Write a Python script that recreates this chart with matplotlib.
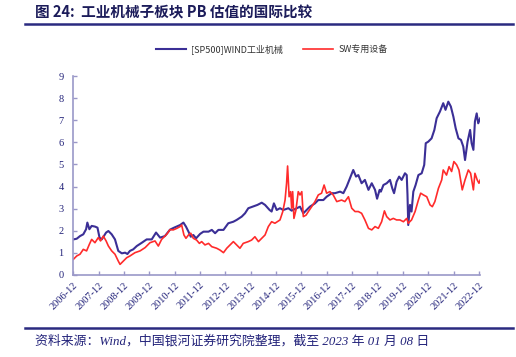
import matplotlib
matplotlib.use("Agg")
import matplotlib.pyplot as plt

plt.rcParams['font.family'] = ['Noto Sans CJK SC', 'DejaVu Sans']

title = "图 24:  工业机械子板块 PB 估值的国际比较"
source = "资料来源：Wind，中国银河证券研究院整理，截至 2023 年 01 月 08 日"
name_a = "[SP500]WIND工业机械"
name_b = "SW专用设备"

# time in decimal years (2006-12 tick = 2006.917)
t_a = [2006.92, 2007.05, 2007.18, 2007.31, 2007.42, 2007.47, 2007.55, 2007.64, 2007.77, 2007.87,
       2007.95, 2008.04, 2008.21, 2008.30, 2008.43, 2008.56, 2008.69, 2008.83, 2008.96, 2009.05,
       2009.15, 2009.28, 2009.42, 2009.62, 2009.81, 2010.01, 2010.18, 2010.34, 2010.53, 2010.73,
       2010.89, 2011.13, 2011.26, 2011.36, 2011.46, 2011.55, 2011.65, 2011.76, 2011.92, 2012.05,
       2012.25, 2012.38, 2012.51, 2012.64, 2012.84, 2013.03, 2013.23, 2013.36, 2013.56, 2013.69,
       2013.82, 2013.99, 2014.18, 2014.35, 2014.48, 2014.66, 2014.74, 2014.83, 2014.94, 2015.07,
       2015.20, 2015.40, 2015.53, 2015.73, 2015.86, 2015.99, 2016.12, 2016.25, 2016.45, 2016.58,
       2016.78, 2016.91, 2017.11, 2017.24, 2017.44, 2017.57, 2017.70, 2017.83, 2017.96, 2018.07,
       2018.16, 2018.29, 2018.42, 2018.56, 2018.69, 2018.82, 2018.90, 2019.00, 2019.05, 2019.15,
       2019.28, 2019.41, 2019.50, 2019.57, 2019.67, 2019.77, 2019.87, 2020.00, 2020.07, 2020.10,
       2020.13, 2020.20, 2020.26, 2020.33, 2020.42, 2020.53, 2020.66, 2020.76, 2020.82, 2020.92,
       2021.05, 2021.16, 2021.25, 2021.38, 2021.51, 2021.60, 2021.71, 2021.81, 2021.91, 2022.00,
       2022.11, 2022.21, 2022.30, 2022.37, 2022.47, 2022.57, 2022.63, 2022.70, 2022.76, 2022.83,
       2022.89, 2022.97]
v_a = [1.61, 1.64, 1.76, 1.84, 2.07, 2.37, 2.07, 2.22, 2.19, 2.14,
       1.69, 1.61, 1.92, 1.99, 1.84, 1.61, 1.09, 0.98, 1.01, 0.95,
       1.09, 1.16, 1.31, 1.46, 1.61, 1.61, 1.92, 1.69, 1.76, 2.05,
       2.14, 2.26, 2.37, 2.19, 1.96, 1.73, 1.81, 1.66, 1.86, 1.96,
       1.96, 2.04, 1.89, 2.04, 2.04, 2.34, 2.41, 2.49, 2.64, 2.79,
       3.02, 3.09, 3.17, 3.27, 3.17, 2.94, 2.87, 3.24, 2.94, 3.02,
       2.94, 3.02, 2.91, 3.02, 3.09, 2.79, 2.94, 3.09, 3.24, 3.39,
       3.39, 3.54, 3.70, 3.70, 3.77, 3.70, 4.00, 4.37, 4.75, 4.45,
       4.52, 4.15, 4.30, 3.85, 4.15, 3.85, 3.45, 3.85, 3.77, 4.07,
       4.15, 4.30, 3.92, 3.70, 4.22, 4.45, 4.30, 4.60, 4.52, 3.62,
       2.26, 3.17, 2.87, 3.77, 4.07, 4.52, 4.60, 4.98, 5.96, 6.03,
       6.18, 6.56, 7.09, 7.39, 7.77, 7.47, 7.84, 7.62, 7.16, 6.64,
       6.18, 6.11, 5.81, 5.20, 6.03, 6.56, 5.96, 5.66, 6.94, 7.31,
       6.86, 7.09]

t_b = [2006.92, 2007.05, 2007.18, 2007.31, 2007.44, 2007.55, 2007.64, 2007.77, 2007.90, 2007.99,
       2008.10, 2008.21, 2008.30, 2008.43, 2008.56, 2008.69, 2008.76, 2008.89, 2009.02, 2009.15,
       2009.35, 2009.55, 2009.75, 2009.94, 2010.14, 2010.27, 2010.40, 2010.60, 2010.73, 2010.86,
       2011.00, 2011.13, 2011.19, 2011.28, 2011.36, 2011.46, 2011.55, 2011.65, 2011.78, 2011.89,
       2011.98, 2012.11, 2012.25, 2012.38, 2012.57, 2012.70, 2012.84, 2012.97, 2013.10, 2013.23,
       2013.36, 2013.49, 2013.62, 2013.82, 2013.95, 2014.08, 2014.22, 2014.35, 2014.48, 2014.61,
       2014.74, 2014.87, 2015.07, 2015.18, 2015.27, 2015.33, 2015.37, 2015.43, 2015.49, 2015.53,
       2015.57, 2015.62, 2015.70, 2015.79, 2015.86, 2015.93, 2015.99, 2016.10, 2016.19, 2016.32,
       2016.45, 2016.58, 2016.71, 2016.81, 2016.91, 2017.04, 2017.17, 2017.31, 2017.50, 2017.63,
       2017.77, 2017.90, 2018.03, 2018.16, 2018.29, 2018.42, 2018.56, 2018.69, 2018.82, 2018.95,
       2019.08, 2019.19, 2019.28, 2019.41, 2019.54, 2019.67, 2019.80, 2019.94, 2020.07, 2020.13,
       2020.26, 2020.40, 2020.53, 2020.62, 2020.73, 2020.86, 2020.99, 2021.08, 2021.18, 2021.32,
       2021.45, 2021.51, 2021.64, 2021.74, 2021.84, 2021.93, 2022.04, 2022.13, 2022.26, 2022.37,
       2022.50, 2022.59, 2022.70, 2022.76, 2022.85, 2022.92, 2022.97]
v_b = [0.71, 0.86, 0.94, 1.16, 1.09, 1.39, 1.61, 1.46, 1.69, 1.54,
       1.76, 1.54, 1.31, 1.09, 0.94, 0.63, 0.48, 0.63, 0.78, 0.86,
       1.01, 1.09, 1.24, 1.46, 1.54, 1.31, 1.61, 1.84, 2.05, 2.04,
       2.11, 2.19, 2.26, 1.81, 1.66, 1.81, 1.89, 1.66, 1.58, 1.43,
       1.51, 1.36, 1.43, 1.28, 1.21, 1.13, 1.01, 1.21, 1.36, 1.51,
       1.36, 1.21, 1.43, 1.51, 1.58, 1.73, 1.51, 1.66, 1.81, 2.19,
       2.41, 2.34, 2.49, 2.87, 3.39, 4.15, 4.93, 3.54, 3.77, 3.02,
       3.77, 2.56, 2.94, 3.77, 3.62, 3.77, 2.64, 2.71, 2.87, 3.09,
       3.32, 3.62, 3.70, 4.07, 3.70, 3.77, 3.62, 3.32, 3.39, 3.32,
       3.54, 3.02, 2.87, 2.87, 2.79, 2.49, 2.11, 2.04, 2.19, 2.11,
       2.41, 2.90, 2.64, 2.49, 2.56, 2.49, 2.49, 2.41, 2.56, 2.34,
       2.49, 2.87, 3.39, 3.70, 3.62, 3.54, 3.17, 3.09, 3.32, 3.92,
       4.30, 4.75, 4.52, 4.90, 4.68, 5.13, 4.98, 4.75, 3.85, 4.30,
       4.75, 4.60, 3.85, 4.60, 4.30, 4.15, 4.30]

tick_pos = [y + 11 / 12 for y in range(2006, 2023)]
tick_labels = [f"{y}-12" for y in range(2006, 2023)]
y_ticks = list(range(0, 10))

navy = "#23237a"
blue = "#3b2f96"
red = "#ff2b2b"
axis_col = "#9a98c8"

fig = plt.figure(figsize=(5.16, 3.57), dpi=100)
ax = fig.add_axes([0.1421, 0.2297, 0.7886, 0.5574])

ax.plot(t_a, v_a, color=blue, lw=1.5, label=name_a)
ax.plot(t_b, v_b, color=red, lw=1.2, label=name_b)

ax.set_ylim(0, 9)
ax.set_yticks(y_ticks)
ax.set_xlim(tick_pos[0], 2022.97)
ax.set_xticks(tick_pos)
ax.set_xticklabels(tick_labels, rotation=45, ha='right', va='top', rotation_mode='anchor')

for s in ['top', 'right']:
    ax.spines[s].set_visible(False)
for s in ['left', 'bottom']:
    ax.spines[s].set_color(axis_col)
    ax.spines[s].set_linewidth(1.2)
ax.tick_params(direction='in', length=3, color=axis_col, width=1, labelcolor=navy, labelsize=7.5, pad=4)
for lab in ax.get_xticklabels() + ax.get_yticklabels():
    lab.set_family(['Liberation Serif'])
ax.tick_params(axis='y', pad=7)

leg = fig.legend(loc='center', bbox_to_anchor=(0.527, 0.862), ncol=2, frameon=False,
                 fontsize=6.5, handlelength=3.3, columnspacing=2.2, handletextpad=0.6)
for t in leg.get_texts():
    t.set_color("#333333")

fig.text(0.068, 0.965, title, fontsize=10.5, fontweight='bold', color="#1c1c5a", va='center', ha='left')
fig.add_artist(plt.Line2D([0.048, 0.994], [0.933, 0.933], color="#2a2a80", lw=1.8))
fig.add_artist(plt.Line2D([0.048, 0.994], [0.082, 0.082], color="#2a2a80", lw=1.8))
fig.text(0.068, 0.045, source, fontsize=9.3, style='italic', color="#23237a", va='center', ha='left',
         family=['Liberation Serif', 'Noto Sans CJK SC'])

fig.savefig("out.png", dpi=100)
